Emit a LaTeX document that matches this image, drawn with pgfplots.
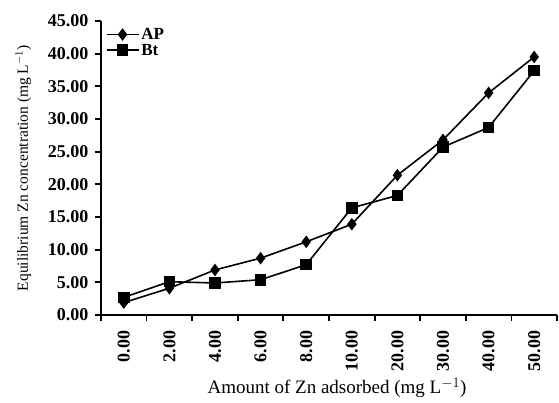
\documentclass[border=0pt]{standalone}
\usepackage{pgfplots}
\pgfplotsset{compat=1.18}
\usepackage{fontspec}
\setmainfont{Liberation Serif}
\begin{document}
\begin{tikzpicture}
\path[use as bounding box] (0,0) rectangle (559pt,402pt);
\begin{axis}[
  at={(101pt,87pt)}, anchor=south west,
  scale only axis, width=456pt, height=294pt,
  xmin=-0.5, xmax=9.5, ymin=0, ymax=45,
  axis lines=left, axis line style={line width=1.8pt, -},
  xtick={0,...,9},
  xticklabels={0.00,2.00,4.00,6.00,8.00,10.00,20.00,30.00,40.00,50.00},
  xticklabel style={rotate=90, anchor=east, font=\fontsize{18}{20}\selectfont\bfseries, xshift=-6pt},
  major x tick style={draw=none},
  minor xtick={-0.5,0.5,...,9.5},
  minor x tick style={line width=1.8pt, black},
  minor tick length=6pt,
  ytick={0,5,...,45},
  yticklabels={0.00,5.00,10.00,15.00,20.00,25.00,30.00,35.00,40.00,45.00},
  yticklabel style={font=\fontsize{18}{20}\selectfont\bfseries, xshift=-3pt},
  major y tick style={line width=1.8pt, black},
  major tick length=6pt,
  tick align=outside,
  xlabel={Amount of Zn adsorbed (mg L$^{-1}$)},
  ylabel={Equilibrium Zn concentration (mg L$^{-1}$)},
  xlabel style={font=\fontsize{19}{21}\selectfont, yshift=0pt, xshift=8pt},
  ylabel style={font=\fontsize{15.5}{17}\selectfont, yshift=10pt},
  clip=false,
  legend style={draw=none, fill=none, at={(0.01,1.0)}, anchor=north west, xshift=0pt, yshift=-5pt,
    font=\fontsize{17}{17}\selectfont\bfseries, inner sep=0pt, row sep=-1pt,
    legend cell align=left},
  legend image code/.code={\draw[mark repeat=2,mark phase=2,#1] plot coordinates {(0pt,0pt)(16pt,0pt)(32pt,0pt)};},
]
\addplot[black, line width=1.6pt, mark=diamond*, mark size=5pt, mark options={solid}]
  coordinates {(0,1.9)(1,4.1)(2,6.9)(3,8.7)(4,11.2)(5,13.9)(6,21.4)(7,26.8)(8,34.0)(9,39.5)};
\addlegendentry{AP}
\addplot[black, line width=1.6pt, mark=square*, mark size=5pt, mark options={solid}]
  coordinates {(0,2.7)(1,5.1)(2,4.9)(3,5.4)(4,7.7)(5,16.4)(6,18.3)(7,25.7)(8,28.7)(9,37.4)};
\addlegendentry{Bt}
\end{axis}
\end{tikzpicture}
\end{document}
